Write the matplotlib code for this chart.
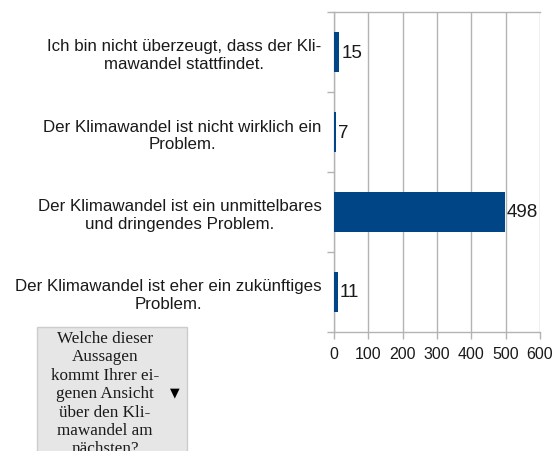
import matplotlib
matplotlib.use("Agg")

import matplotlib.pyplot as plt
import matplotlib.patches as mpatches

# ── data ──────────────────────────────────────────────────────────────────────
categories = [
    "Ich bin nicht überzeugt, dass der Kli-\nmawandel stattfindet.",
    "Der Klimawandel ist nicht wirklich ein\nProblem.",
    "Der Klimawandel ist ein unmittelbares\nund dringendes Problem.",
    "Der Klimawandel ist eher ein zukünftiges\nProblem.",
]
counts = [15, 7, 498, 11]
x_ticks = [0, 100, 200, 300, 400, 500, 600]
field_label = ("Welche dieser\nAussagen\nkommt Ihrer ei-\ngenen Ansicht\n"
               "über den Kli-\nmawandel am\nnächsten?")

BAR_COLOR  = "#004586"
GRID_COLOR = "#b3b3b3"
TEXT_COLOR = "#1a1a1a"

plt.rcParams["font.family"] = ["Liberation Sans", "DejaVu Sans"]

fig = plt.figure(figsize=(5.56, 4.52), dpi=100)
W, H = 556, 452
# plot area in pixels: x 334..540, y 13..333 (from top)
ax = fig.add_axes([334 / W, 1 - 333 / H, (540 - 334) / W, (333 - 13) / H])

n = len(categories)
ypos = list(range(n))
ax.barh(ypos, counts, height=0.5, color=BAR_COLOR, zorder=3)
ax.set_ylim(n - 0.5, -0.5)
ax.set_xlim(0, 600)

for y, v in zip(ypos, counts):
    ax.text(v + 6, y, str(v), va="center", ha="left", fontsize=13.5,
            color=TEXT_COLOR)

# category labels
ax.set_yticks(ypos)
ax.set_yticklabels(categories, fontsize=12.2, color=TEXT_COLOR,
                   multialignment="center", linespacing=1.2)
ax.tick_params(axis="y", which="major", length=0, pad=9)
ax.set_yticks([i - 0.5 for i in range(n + 1)], minor=True)
ax.tick_params(axis="y", which="minor", length=5, width=1, color=GRID_COLOR,
               direction="out")

# value axis
ax.set_xticks(x_ticks)
ax.set_xticklabels([str(t) for t in x_ticks], fontsize=11.5, color=TEXT_COLOR)
ax.tick_params(axis="x", length=5, width=1, color=GRID_COLOR, pad=5)
ax.grid(axis="x", color=GRID_COLOR, linewidth=1, zorder=0)
ax.set_axisbelow(True)

for side in ["left", "bottom", "top"]:
    ax.spines[side].set_color(GRID_COLOR)
    ax.spines[side].set_linewidth(1)
ax.spines["right"].set_visible(False)

# field button box (pivot-table style)
box = mpatches.Rectangle((37 / W, 1 - 460 / H), 150 / W, 132 / H,
                         transform=fig.transFigure, facecolor="#e6e6e6",
                         edgecolor="#cccccc", linewidth=1)
fig.patches.append(box)
fig.text(105 / W, 1 - 331 / H, field_label, ha="center", va="top",
         fontsize=12.3, family=["Liberation Serif", "DejaVu Serif"],
         color=TEXT_COLOR, linespacing=1.2, multialignment="center")
fig.text(175 / W, 1 - 393 / H, "▼", ha="center", va="center", fontsize=9,
         color="black", family=["DejaVu Sans"])

fig.savefig("out.png", dpi=100, facecolor="white")
